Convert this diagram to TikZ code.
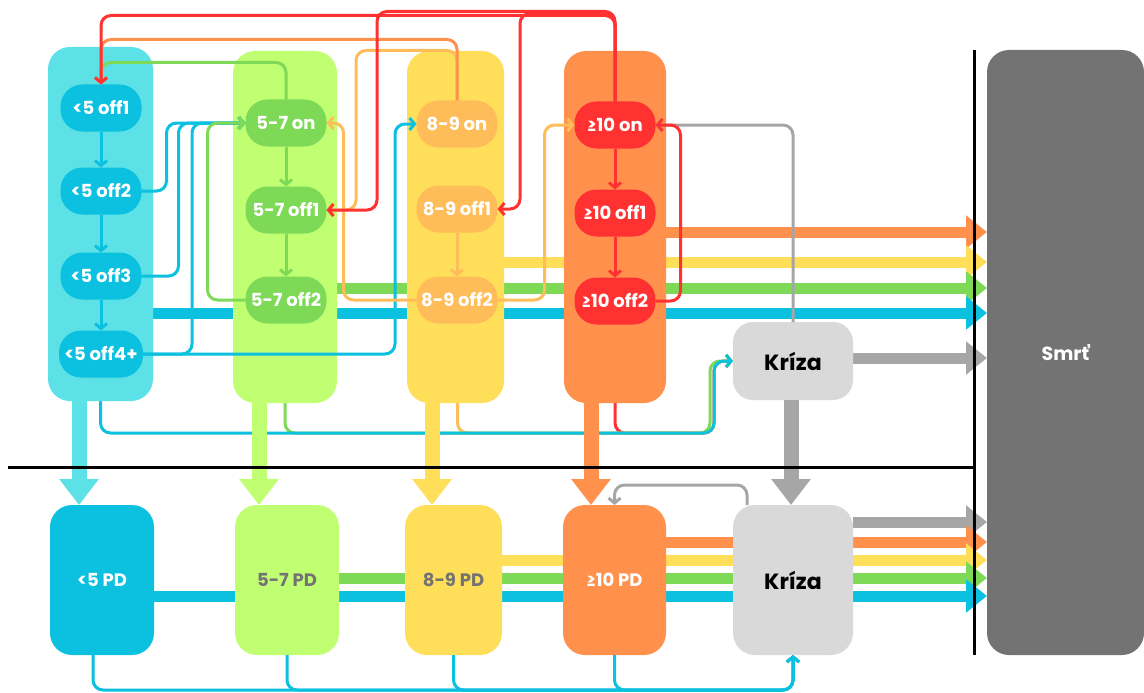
\documentclass[tikz,border=0pt]{standalone}
\usepackage{fontspec}
\setmainfont{Poppins}
\usetikzlibrary{arrows.meta}
\definecolor{cybg}{HTML}{5CE1E6}
\definecolor{cynode}{HTML}{0CC0DF}
\definecolor{limebg}{HTML}{C1FF72}
\definecolor{grnode}{HTML}{7ED957}
\definecolor{yebg}{HTML}{FFDE59}
\definecolor{ornode}{HTML}{FFBD59}
\definecolor{orbg}{HTML}{FF914D}
\definecolor{rdnode}{HTML}{FF3131}
\definecolor{ltgray}{HTML}{D9D9D9}
\definecolor{mdgray}{HTML}{A6A6A6}
\definecolor{dkgray}{HTML}{737373}
\pgfdeclarelayer{back}
\pgfdeclarelayer{mid}
\pgfsetlayers{back,mid,main}

\begin{document}
\begin{tikzpicture}[x=1pt,y=-1pt,
  panel/.style={fill=#1, draw=none, rounded corners=22pt, inner sep=0pt, outer sep=0pt},
  pill/.style={fill=#1, draw=none, rounded corners=22pt, minimum width=81pt, minimum height=47pt,
    inner sep=0pt, outer sep=0pt, text=white, font=\bfseries\fontsize{18}{18}\selectfont},
  pdbox/.style={panel=#1, minimum width=104pt, minimum height=150pt,
    font=\bfseries\fontsize{18}{18}\selectfont},
  bigh/.style={line width=11pt, draw=#1, -{Triangle[width=32pt,length=21pt]}},
  bigv/.style={line width=15pt, draw=#1, -{Triangle[width=38pt,length=26pt]}},
  link/.style={line width=3pt, draw=#1, rounded corners=10pt},
  tip/.style={-{Straight Barb[length=5pt,width=12pt]}}
]
\useasboundingbox (0,0) rectangle (1144,693);

% reference points for offsets
\coordinate (kc)  at (714,433);
\coordinate (kcg) at (710,433);
\coordinate (kb)  at (793,690);
\coordinate (v1) at (79,0);
\coordinate (v2) at (259,0);
\coordinate (v3) at (432,0);
\coordinate (v4) at (591,0);
\coordinate (h1) at (0,232);
\coordinate (h2) at (0,262);
\coordinate (h3) at (0,288);
\coordinate (h4) at (0,313);
\coordinate (h5) at (0,358);
\coordinate (h6) at (0,522);
\coordinate (h7) at (0,542);
\coordinate (h8) at (0,560);
\coordinate (h9) at (0,578);
\coordinate (h10) at (0,596);

% ---------- panels and boxes ----------
\begin{pgfonlayer}{mid}
\node[panel=cybg,   minimum width=105pt, minimum height=354pt] (c1) at (100.5,224) {};
\node[panel=limebg, minimum width=104pt, minimum height=352pt] (c2) at (285,227) {};
\node[panel=yebg,   minimum width=97pt,  minimum height=352pt] (c3) at (455.5,227) {};
\node[panel=orbg,   minimum width=102pt, minimum height=352pt] (c4) at (615,227) {};
\node[panel=ltgray, rounded corners=20pt, minimum width=120pt, minimum height=78pt,
  font=\bfseries\fontsize{22}{22}\selectfont] (k1) at (793,361) {Kríza};

\node[pdbox=cynode, text=white] (p1) at (102,580) {<5 PD};
\node[pdbox=limebg, text=dkgray] (p2) at (287,580) {5-7 PD};
\node[pdbox=yebg, text=dkgray, minimum width=97pt] (p3) at (453.5,580) {8-9 PD};
\node[pdbox=orbg, text=white, minimum width=103pt] (p4) at (614.5,580) {≥10 PD};
\node[pdbox=ltgray, minimum width=120pt, font=\bfseries\fontsize{22}{22}\selectfont] (k2) at (793,580) {Kríza};

\node[panel=dkgray, minimum width=157pt, minimum height=605pt, text=white,
  font=\bfseries\fontsize{19}{19}\selectfont] (s) at (1065.5,352.5) {Smrť};
\end{pgfonlayer}

% ---------- lines running behind the panels ----------
\begin{pgfonlayer}{back}
% feeders from each group into the upper crisis box
\draw[link=rdnode, tip] (c4.south) |- (kc) |- (k1.west);
\draw[link=ornode, tip] ([xshift=2pt]c3.south) |- (kc) |- (k1.west);
\draw[link=grnode, tip] (c2.south) |- (kcg) |- (k1.west);
\draw[link=cynode, tip] (c1.south) |- (kc) |- (k1.west);
% flows into death, upper half
\draw[bigh=orbg]   (c4.east |- h1) -- (s.west |- h1);
\draw[bigh=yebg]   (c3.east |- h2) -- (s.west |- h2);
\draw[bigh=grnode] (c2.east |- h3) -- (s.west |- h3);
\draw[bigh=cynode] (c1.east |- h4) -- (s.west |- h4);
\draw[bigh=mdgray] (k1.east |- h5) -- (s.west |- h5);
% flows into death, lower half
\draw[bigh=mdgray] (k2.east |- h6) -- (s.west |- h6);
\draw[bigh=orbg]   (p4.east |- h7) -- (s.west |- h7);
\draw[bigh=yebg]   (p3.east |- h8) -- (s.west |- h8);
\draw[bigh=grnode] (p2.east |- h9) -- (s.west |- h9);
\draw[bigh=cynode] (p1.east |- h10) -- (s.west |- h10);
\end{pgfonlayer}

% ---------- transfers down to post-discharge ----------
\draw[bigv=cybg]   (c1.south -| v1) -- (p1.north -| v1);
\draw[bigv=limebg] (c2.south -| v2) -- (p2.north -| v2);
\draw[bigv=yebg]   (c3.south -| v3) -- (p3.north -| v3);
\draw[bigv=orbg]   (c4.south -| v4) -- (p4.north -| v4);
\draw[bigv=mdgray] ([xshift=-2pt]k1.south) -- ([xshift=-2pt]k2.north);

% ---------- dividers ----------
\draw[line width=3pt] (8,467) -- (974,467);
\draw[line width=3pt] (974,50) -- (974,655);

% ---------- states ----------
\node[pill=cynode] (a1) at (101,108) {<5 off1};
\node[pill=cynode] (a2) at (101,191) {<5 off2};
\node[pill=cynode] (a3) at (101,276) {<5 off3};
\node[pill=cynode, minimum width=84pt] (a4) at (101,354) {<5 off4+};
\node[pill=grnode] (b1) at (286,123) {5-7 on};
\node[pill=grnode] (b2) at (286,210) {5-7 off1};
\node[pill=grnode] (b3) at (286,300) {5-7 off2};
\node[pill=ornode] (d1) at (457,124) {8-9 on};
\node[pill=ornode] (d2) at (457,209) {8-9 off1};
\node[pill=ornode] (d3) at (457,300) {8-9 off2};
\node[pill=rdnode] (e1) at (615,125) {≥10 on};
\node[pill=rdnode] (e2) at (615,213) {≥10 off1};
\node[pill=rdnode] (e3) at (615,301) {≥10 off2};

% ---------- transitions ----------
% gray: from crisis back to treatment
\draw[link=mdgray, tip] (k1.north) |- (e1.east);
\draw[link=mdgray, tip] ([xshift=-46pt]k2.north) -- ++(0,-20) -| (p4.north);

% cyan: under 5
\draw[link=cynode, tip] (a1.south) -- (a2.north);
\draw[link=cynode, tip] (a2.south) -- (a3.north);
\draw[link=cynode, tip] (a3.south) -- (a4.north);
\draw[link=cynode, tip] (a2.east) -- ++(25,0) |- (b1.west);
\draw[link=cynode, tip] (a3.east) -- ++(37,0) |- (b1.west);
\draw[link=cynode, tip] (a4.east) -- ++(49,0) |- (b1.west);
\draw[link=cynode, tip] (a4.east) -- ++(252,0) |- (d1.west);

% green: 5-7
\draw[link=grnode, tip] (b1.south) -- (b2.north);
\draw[link=grnode, tip] (b2.south) -- (b3.north);
\draw[link=grnode, tip] (b3.west) -- ++(-38,0) |- (b1.west);
\draw[link=grnode, tip] (b1.north) -- ++(0,-37) -| (a1.north);

% orange: 8-9
\draw[link=ornode, tip] (d2.south) -- (d3.north);
\draw[link=ornode, tip] (d3.west) -- ++(-73,0) |- (b1.east);
\draw[link=ornode, tip] (d3.east) -- ++(47,0) |- (e1.west);
\draw[link=ornode, tip] (d1.north) -- ++(0,-50) -- ++(-101,0) |- (b2.east);
\draw[link=orbg, tip] (d1.north) -- ++(0,-61) -| (a1.north);

% red: 10 and more
\draw[link=rdnode, tip] (e1.south) -- (e2.north);
\draw[link=rdnode, tip] (e2.south) -- (e3.north);
\draw[link=rdnode, tip] (e3.east) -- ++(25,0) |- (e1.east);
\draw[link=rdnode, tip] (e1.north) -- ++(0,-88) -- ++(-95,0) |- (d2.east);
\draw[link=rdnode, tip] (e1.north) -- ++(0,-90) -- ++(-238,0) |- (b2.east);
\draw[link=rdnode, tip] (e1.north) -- ++(0,-86) -| (a1.north);

% cyan: post-discharge into crisis
\draw[link=cynode, tip] ([xshift=-9pt]p1.south) |- (kb) -- (k2.south);
\draw[link=cynode, tip] (p2.south) |- (kb) -- (k2.south);
\draw[link=cynode, tip] (p3.south) |- (kb) -- (k2.south);
\draw[link=cynode, tip] (p4.south) |- (kb) -- (k2.south);
\end{tikzpicture}
\end{document}
